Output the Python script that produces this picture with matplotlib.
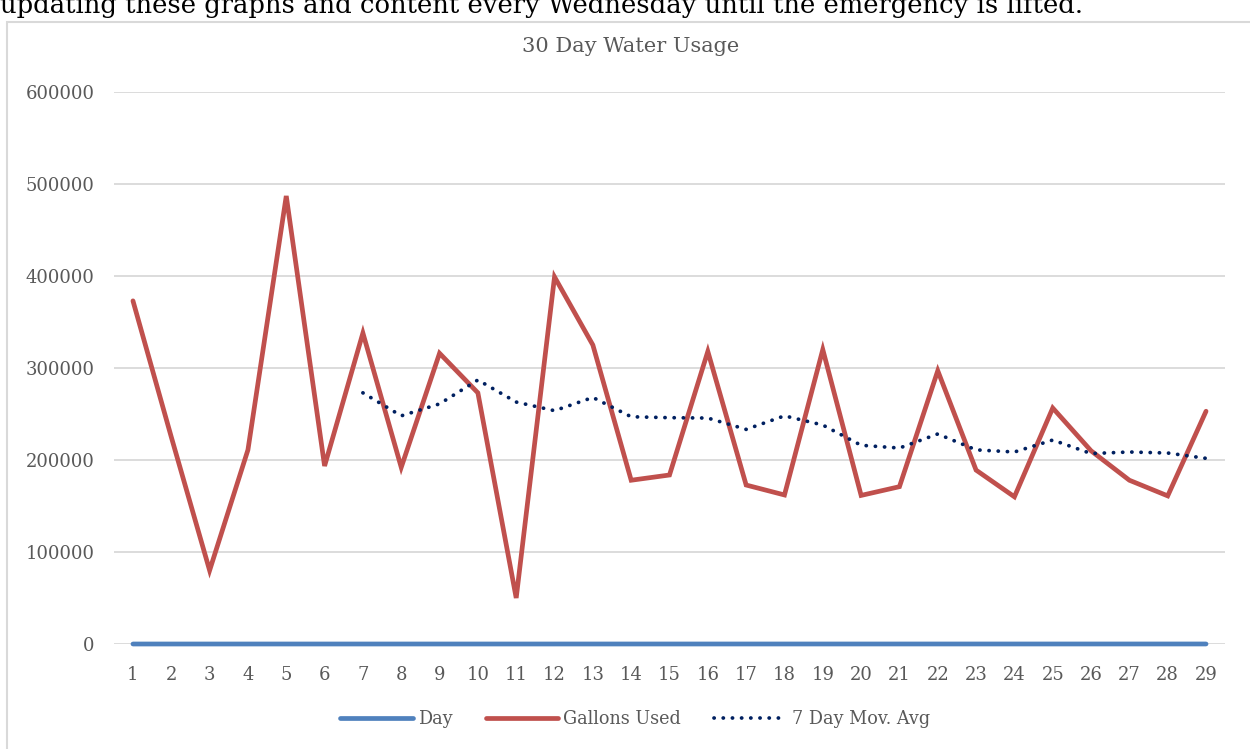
import matplotlib
matplotlib.use("Agg")
import matplotlib.pyplot as plt
from matplotlib.patches import Rectangle

days = list(range(1, 30))
gallons = [373000, 225000, 80000, 211000, 487000, 193500, 338000, 192000,
           316000, 273000, 50000, 399000, 325000, 178000, 183700, 318000,
           172800, 162000, 320000, 161500, 171000, 297000, 189000, 160000,
           256500, 210000, 178000, 161000, 253000]
ma_days = list(range(7, 30))
moving_avg = [273000, 248000, 261000, 287000, 263000, 253600, 268000, 247000,
              246000, 245600, 233300, 248000, 238000, 216000, 213000, 228300,
              211000, 208700, 221700, 207000, 208700, 207600, 201800]
y_ticks = [0, 100000, 200000, 300000, 400000, 500000, 600000]

plt.rcParams["font.family"] = ["DejaVu Serif"]
TXT = "#595959"
GRID = "#d9d9d9"

fig = plt.figure(figsize=(12.5, 7.49), dpi=100)

# page text cut off above the chart
fig.text(0.0, 1 - 12.5 / 749, "updating these graphs and content every Wednesday until the emergency is lifted.",
         fontsize=18.6, color="black", va="baseline", ha="left")

# chart border
fig.patches.append(Rectangle((7 / 1250, -0.05), 1.1, 1 - 22 / 749 + 0.05,
                             transform=fig.transFigure, fill=False,
                             edgecolor=GRID, linewidth=1.5))

ax = fig.add_axes([113.8 / 1250, 105 / 749, 1111.4 / 1250, 552 / 749])
ax.plot(days, days, color="#4F81BD", lw=3.4, solid_capstyle="round", label="Day",
        zorder=3, clip_on=False)
ax.plot(days, gallons, color="#C0504D", lw=3.4, solid_capstyle="round",
        solid_joinstyle="miter", label="Gallons Used", zorder=3)
ax.plot(ma_days, moving_avg, color="#002060", lw=2.7, linestyle=(0, (0.05, 2.4)),
        dash_capstyle="round", label="7 Day Mov. Avg", zorder=4)

ax.set_xlim(0.5, 29.5)
ax.set_ylim(0, 600000)
ax.set_xticks(days)
ax.set_yticks(y_ticks)
ax.set_yticklabels([str(v) for v in y_ticks])
ax.grid(axis="y", color=GRID, lw=1.3)
ax.set_axisbelow(True)
for s in ax.spines.values():
    s.set_visible(False)
ax.tick_params(length=0, labelsize=13, colors=TXT)
ax.tick_params(axis="x", pad=16)
ax.tick_params(axis="y", pad=14)

fig.text(631 / 1250, 1 - 46 / 749, "30 Day Water Usage", fontsize=15, color=TXT,
         ha="center", va="center")

leg = ax.legend(loc="center", bbox_to_anchor=(0.469, (644 - 719) / 552), ncol=3,
                frameon=False, fontsize=12.7,
                handlelength=4.1, handletextpad=0.28,
                columnspacing=1.9, bbox_transform=ax.transAxes)
for t in leg.get_texts():
    t.set_color(TXT)

fig.savefig("out.png", dpi=100)
